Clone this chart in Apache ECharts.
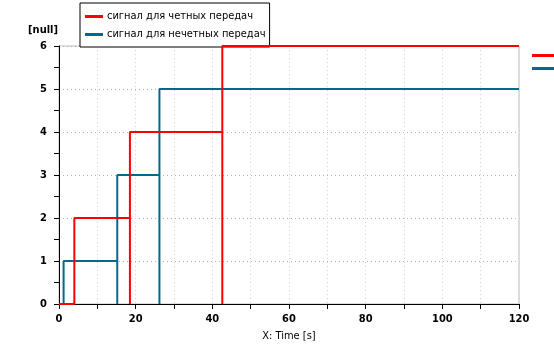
<!DOCTYPE html>
<html>
<head>
<meta charset="utf-8">
<script src="https://cdn.jsdelivr.net/npm/echarts@6/dist/echarts.min.js"></script>
<style>
  html, body { margin: 0; padding: 0; background: #fff; }
  #chart { width: 554px; height: 348px; }
</style>
</head>
<body>
<div id="chart"></div>
<script>
// названия сигналов
var seriesNames = ['сигнал для четных передач', 'сигнал для нечетных передач'];

// сигнал для четных передач (время, значение)
var evenTime  = [0, 4, 4, 18.5, 18.5, 18.5, 42.6, 42.6, 42.6, 120];
var evenValue = [0, 0, 2, 2,    0,    4,    4,    0,    6,    6];

// сигнал для нечетных передач
var oddTime  = [0, 1.2, 1.2, 15.2, 15.2, 15.2, 26.2, 26.2, 26.2, 120];
var oddValue = [0, 0,   1,   1,    0,    3,    3,    0,    5,    5];

var xTicks = [0, 20, 40, 60, 80, 100, 120];
var yTicks = [0, 1, 2, 3, 4, 5, 6];

function toPairs(t, v) {
    var out = [];
    for (var i = 0; i < t.length; i++) {
        out.push([t[i], v[i]]);
    }
    return out;
}

var FONT = "'DejaVu Sans Condensed', 'DejaVu Sans', sans-serif";

var chart = echarts.init(document.getElementById('chart'), null, {renderer: 'canvas'});

var option = {
    animation: false,
    textStyle: {fontFamily: FONT},
    grid: {
        left: 59, right: 35, top: 46, bottom: 44,
        show: true, borderColor: '#bdbdbd', borderWidth: 1
    },
    legend: [{
        data: seriesNames,
        orient: 'vertical',
        left: 80, top: 3,
        padding: [8, 4, 7, 5],
        itemGap: 7,
        itemWidth: 18, itemHeight: 3,
        icon: 'rect',
        backgroundColor: '#fff',
        borderColor: '#000', borderWidth: 1,
        borderRadius: 0,
        textStyle: {fontFamily: FONT, fontSize: 11, color: '#000', padding: [0, 0, 0, -1]}
    }, {
        // обрезанная легенда справа
        data: seriesNames,
        orient: 'vertical',
        left: 532, top: 50,
        padding: 0,
        itemGap: 2,
        itemWidth: 24, itemHeight: 3,
        icon: 'rect',
        selectedMode: false,
        textStyle: {fontFamily: FONT, fontSize: 11, color: '#000', padding: [0, 0, 0, 30]}
    }],
    xAxis: {
        type: 'value',
        min: 0, max: 120, interval: 10,
        name: 'X: Time [s]',
        nameLocation: 'middle',
        nameGap: 27,
        nameTextStyle: {fontFamily: FONT, fontSize: 11, color: '#000'},
        axisLine: {lineStyle: {color: '#000', width: 1}},
        axisTick: {show: true, length: 5, lineStyle: {color: '#000'}},
        axisLabel: {
            fontFamily: FONT, fontSize: 11, fontWeight: 'bold', color: '#000', margin: 10,
            formatter: function (v) { return xTicks.indexOf(v) >= 0 ? String(v) : ''; }
        },
        splitLine: {show: true, lineStyle: {color: '#d0d0d0', type: [1, 3]}}
    },
    yAxis: {
        type: 'value',
        min: 0, max: 6, interval: 1,
        name: '[null]',
        nameLocation: 'end',
        nameGap: 10,
        nameTextStyle: {fontFamily: FONT, fontSize: 11, fontWeight: 'bold', color: '#000', align: 'right', padding: [0, 1, 0, 0]},
        axisLine: {show: true, lineStyle: {color: '#000', width: 1}},
        axisTick: {show: true, length: 5, lineStyle: {color: '#000'}},
        minorTick: {show: true, splitNumber: 2, length: 5, lineStyle: {color: '#000'}},
        axisLabel: {
            fontFamily: FONT, fontSize: 11, fontWeight: 'bold', color: '#000', margin: 12,
            formatter: function (v) { return yTicks.indexOf(v) >= 0 ? String(v) : ''; }
        },
        splitLine: {show: true, lineStyle: {color: '#b0b0b0', type: [1, 3]}}
    },
    series: [{
        name: seriesNames[1],
        type: 'line',
        data: toPairs(oddTime, oddValue),
        showSymbol: false,
        color: '#00698c',
        lineStyle: {width: 2, color: '#00698c'},
        z: 3
    }, {
        name: seriesNames[0],
        type: 'line',
        data: toPairs(evenTime, evenValue),
        showSymbol: false,
        color: '#ff0000',
        lineStyle: {width: 2, color: '#ff0000'},
        z: 4
    }]
};

chart.setOption(option);
</script>
</body>
</html>
